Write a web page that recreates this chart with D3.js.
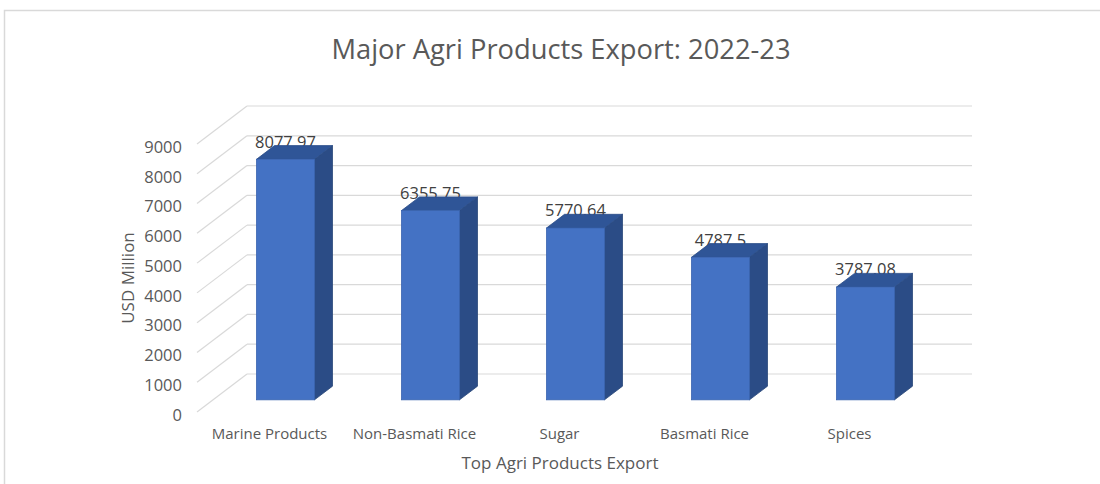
<!DOCTYPE html>
<html>
<head>
<meta charset="utf-8">
<script src="https://cdn.jsdelivr.net/npm/d3@7"></script>
<style>
  html, body { margin: 0; padding: 0; background: #fff; }
  svg { display: block; }
  text { font-family: "Open Sans", "Noto Sans", sans-serif; }
</style>
</head>
<body>
<svg id="chart" width="1100" height="484"></svg>
<script>
const categories = ["Marine Products", "Non-Basmati Rice", "Sugar", "Basmati Rice", "Spices"];
const values = [8077.97, 6355.75, 5770.64, 4787.5, 3787.08];
const valueLabels = ["8077.97", "6355.75", "5770.64", "4787.5", "3787.08"];
const yTicks = [0, 1000, 2000, 3000, 4000, 5000, 6000, 7000, 8000, 9000];
const title = "Major Agri Products Export: 2022-23";
const xTitle = "Top Agri Products Export";
const yTitle = "USD Million";

const svg = d3.select("#chart");
const W = 1100, H = 484;

// 3D projection parameters
const DX = 50, DY = -38;          // full depth vector
const D0 = 0.32, D1 = 0.68;       // bar depth span (fraction)

const x = d3.scaleBand().domain(categories).range([197, 922]).padding(0);
const y = d3.scaleLinear().domain([0, 9000]).range([412, 144]);
const barW = x.bandwidth() * 0.4;

// chart border
svg.append("rect").attr("x", 4.5).attr("y", 10.5).attr("width", W + 10).attr("height", H + 10)
  .attr("fill", "#fff").attr("stroke", "#D9D9D9").attr("stroke-width", 1.5);

// title
svg.append("text").attr("x", 561).attr("y", 59).attr("text-anchor", "middle")
  .attr("font-size", 27.3).attr("fill", "#595959").text(title);

// gridlines: side wall diagonals + back wall
const grid = svg.append("g").attr("stroke", "#D9D9D9").attr("stroke-width", 1.2).attr("fill", "none");
yTicks.forEach(t => {
  const yf = y(t);
  grid.append("line").attr("x1", x.range()[0]).attr("y1", yf)
    .attr("x2", x.range()[0] + DX).attr("y2", yf + DY);
  grid.append("line").attr("x1", x.range()[0] + DX).attr("y1", yf + DY)
    .attr("x2", x.range()[1] + DX).attr("y2", yf + DY);
});

// y tick labels
svg.append("g").selectAll("text").data(yTicks).join("text")
  .attr("x", 182).attr("y", d => y(d) + 3).attr("dy", "0.35em")
  .attr("text-anchor", "end").attr("font-size", 16.5).attr("fill", "#595959")
  .text(d => d);

// axis titles
svg.append("text").attr("transform", "translate(134,278) rotate(-90)")
  .attr("text-anchor", "middle").attr("font-size", 17).attr("fill", "#595959").text(yTitle);
svg.append("text").attr("x", 560).attr("y", 463).attr("dy", "0.35em")
  .attr("text-anchor", "middle").attr("font-size", 17).attr("fill", "#595959").text(xTitle);

// category labels
svg.append("g").selectAll("text").data(categories).join("text")
  .attr("x", d => x(d) + x.bandwidth() / 2).attr("y", 434).attr("dy", "0.35em")
  .attr("text-anchor", "middle").attr("font-size", 15).attr("fill", "#595959")
  .text(d => d);

// bars
const data = categories.map((c, i) => ({ c, v: values[i], label: valueLabels[i] }));
const fdx = DX * D0, fdy = DY * D0;
const bdx = DX * (D1 - D0), bdy = DY * (D1 - D0);

const bars = svg.append("g").selectAll("g").data(data).join("g");

// data labels (drawn before the bars so the bar top overlaps them)
bars.append("text")
  .attr("x", d => x(d.c) + x.bandwidth() / 2 + fdx)
  .attr("y", d => y(d.v) + fdy + bdy + 2)
  .attr("text-anchor", "middle").attr("font-size", 16.5).attr("fill", "#404040")
  .text(d => d.label);

bars.each(function(d) {
  const g = d3.select(this);
  const cx = x(d.c) + x.bandwidth() / 2 + fdx;
  const x0 = cx - barW / 2, x1 = cx + barW / 2;
  const yt = y(d.v) + fdy, yb = y(0) + fdy;
  // right side face
  g.append("path")
    .attr("d", `M${x1},${yt} L${x1 + bdx},${yt + bdy} L${x1 + bdx},${yb + bdy} L${x1},${yb} Z`)
    .attr("fill", "#2B4C86").attr("stroke", "#2A4779").attr("stroke-width", 0.8);
  // top face
  g.append("path")
    .attr("d", `M${x0},${yt} L${x1},${yt} L${x1 + bdx},${yt + bdy} L${x0 + bdx},${yt + bdy} Z`)
    .attr("fill", "#2F5597").attr("stroke", "#2A4B86").attr("stroke-width", 0.8);
  // front face
  g.append("rect").attr("x", x0).attr("y", yt).attr("width", barW).attr("height", yb - yt)
    .attr("fill", "#4472C4").attr("stroke", "#3A64B0").attr("stroke-width", 0.8);
});
</script>
</body>
</html>
